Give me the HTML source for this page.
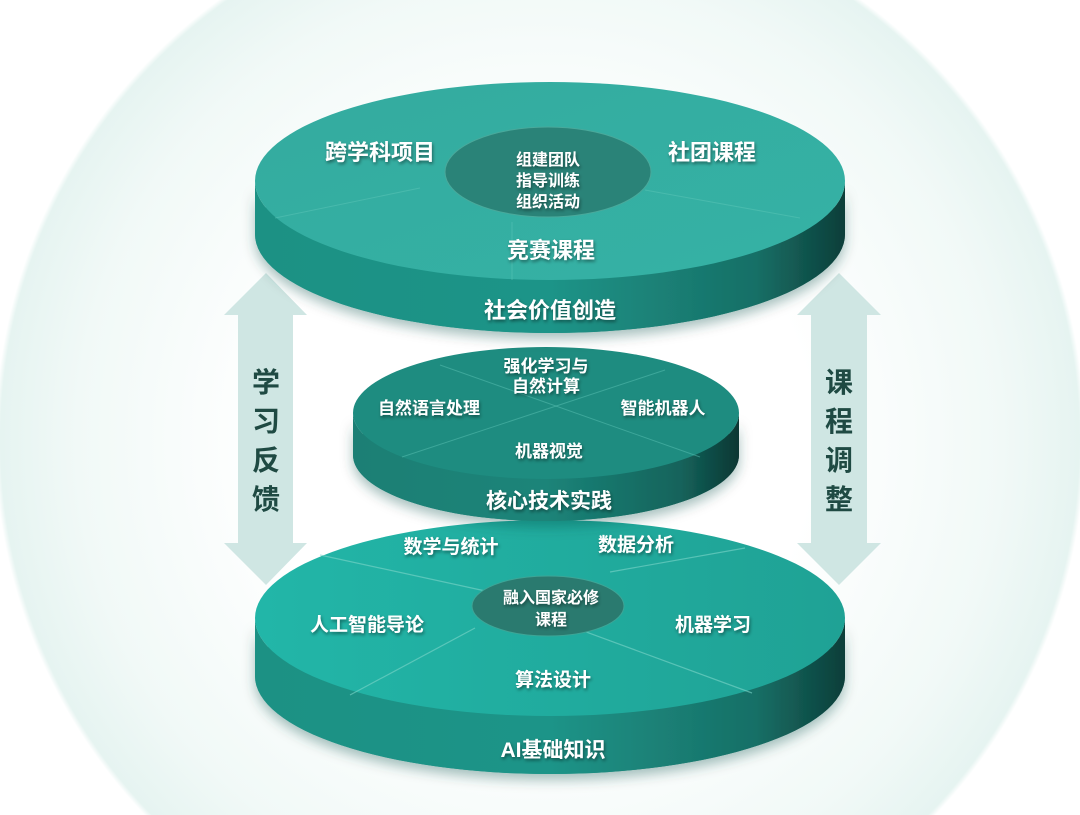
<!DOCTYPE html>
<html><head><meta charset="utf-8"><style>
html,body{margin:0;padding:0;background:#fff;width:1080px;height:815px;overflow:hidden}
svg{display:block}
text{font-family:"Liberation Sans","Noto Sans CJK SC",sans-serif;font-weight:bold}
</style></head><body>
<svg width="1080" height="815" viewBox="0 0 1080 815" xmlns="http://www.w3.org/2000/svg">
<defs>
<radialGradient id="bg" cx="540" cy="440" r="545" gradientUnits="userSpaceOnUse">
<stop offset="0.5" stop-color="#ffffff"/><stop offset="0.85" stop-color="#f1f9f7"/><stop offset="0.99" stop-color="#e6f4f1"/><stop offset="1" stop-color="#ffffff"/>
</radialGradient>
<linearGradient id="side" x1="0" x2="1" y1="0" y2="0">
<stop offset="0" stop-color="#1f9184"/><stop offset="0.5" stop-color="#1e9488"/><stop offset="0.85" stop-color="#176f66"/><stop offset="1" stop-color="#0c3e39"/>
</linearGradient>
<linearGradient id="side2" x1="0" x2="1" y1="0" y2="0">
<stop offset="0" stop-color="#1a7f74"/><stop offset="0.5" stop-color="#1b8479"/><stop offset="0.85" stop-color="#14635b"/><stop offset="1" stop-color="#0a3733"/>
</linearGradient>
<linearGradient id="topf" x1="0" x2="1" y1="0" y2="1">
<stop offset="0" stop-color="#34ab9f"/><stop offset="1" stop-color="#35b2a5"/>
</linearGradient>
<linearGradient id="botf" x1="0" x2="1" y1="0" y2="0">
<stop offset="0" stop-color="#22b6a8"/><stop offset="1" stop-color="#1fa295"/>
</linearGradient>
<filter id="sh" x="-10%" y="-10%" width="120%" height="130%"><feDropShadow dx="0" dy="6" stdDeviation="6" flood-color="#0a4a44" flood-opacity="0.35"/></filter>
<filter id="ts"><feDropShadow dx="1" dy="2" stdDeviation="1.5" flood-color="#000" flood-opacity="0.45"/></filter>
</defs>
<rect width="1080" height="815" fill="#fff"/>
<circle cx="540" cy="440" r="545" fill="url(#bg)"/>

<polygon points="266,273 307,315 293,315 293,543 307,543 266,585 224,543 238,543 238,315 224,315" fill="#cfe6e3"/>
<polygon points="839,273 881,315 867,315 867,543 881,543 839,585 797,543 811,543 811,315 797,315" fill="#cfe6e3"/>
<g fill="#1f4a43" font-size="28" text-anchor="middle">
<text x="266" y="392">学</text><text x="266" y="431">习</text><text x="266" y="470">反</text><text x="266" y="509">馈</text>
<text x="839" y="392">课</text><text x="839" y="431">程</text><text x="839" y="470">调</text><text x="839" y="509">整</text>
</g>

<g filter="url(#sh)">
<path d="M255,618 A295,98 0 0 0 845,618 L845,676 A295,98 0 0 1 255,676 Z" fill="url(#side)"/>
<ellipse cx="550" cy="676" rx="295" ry="98" fill="url(#side)"/>
</g>
<ellipse cx="550" cy="618" rx="295" ry="98" fill="url(#botf)"/>
<g stroke="#7fd6c9" stroke-opacity="0.6" stroke-width="1.2">
<line x1="320" y1="555" x2="490" y2="592"/><line x1="610" y1="572" x2="745" y2="548"/>
<line x1="475" y1="628" x2="350" y2="695"/><line x1="540" y1="615" x2="752" y2="693"/>
</g>
<ellipse cx="548" cy="606" rx="76" ry="30" fill="#2a7a6f" stroke="#3ea596" stroke-width="1"/>
<g fill="#fff" font-size="19" text-anchor="middle" filter="url(#ts)">
<text x="451" y="553">数学与统计</text><text x="636" y="551">数据分析</text>
<text x="367" y="631">人工智能导论</text><text x="713" y="631">机器学习</text>
<text x="553" y="686">算法设计</text>
<text x="551" y="603" font-size="16">融入国家必修</text><text x="551" y="625" font-size="16">课程</text>
<text x="553" y="757" font-size="21">AI基础知识</text>
</g>

<g filter="url(#sh)">
<path d="M353,413 A193,66 0 0 0 739,413 L739,455 A193,66 0 0 1 353,455 Z" fill="url(#side2)"/>
<ellipse cx="546" cy="455" rx="193" ry="66" fill="url(#side2)"/>
</g>
<ellipse cx="546" cy="413" rx="193" ry="66" fill="#1e8c80"/>
<g stroke="#5cc2b4" stroke-opacity="0.5" stroke-width="1">
<line x1="440" y1="365" x2="700" y2="457"/><line x1="665" y1="370" x2="402" y2="457"/>
</g>
<g fill="#fff" font-size="17" text-anchor="middle" filter="url(#ts)">
<text x="546" y="372">强化学习与</text><text x="546" y="392">自然计算</text>
<text x="429" y="414">自然语言处理</text><text x="663" y="414">智能机器人</text>
<text x="549" y="457">机器视觉</text>
<text x="549" y="508" font-size="21">核心技术实践</text>
</g>

<g filter="url(#sh)">
<path d="M255,181 A295,99 0 0 0 845,181 L845,234 A295,99 0 0 1 255,234 Z" fill="url(#side)"/>
<ellipse cx="550" cy="234" rx="295" ry="99" fill="url(#side)"/>
</g>
<ellipse cx="550" cy="181" rx="295" ry="99" fill="url(#topf)"/>
<g stroke="#5cc6b8" stroke-opacity="0.5" stroke-width="1">
<line x1="275" y1="218" x2="420" y2="188"/><line x1="645" y1="190" x2="800" y2="218"/><line x1="512" y1="222" x2="512" y2="280"/>
</g>
<ellipse cx="548" cy="172" rx="103" ry="45" fill="#2a8378" stroke="#4aa99b" stroke-width="1"/>
<g fill="#fff" text-anchor="middle" filter="url(#ts)">
<text x="380" y="160" font-size="22">跨学科项目</text><text x="712" y="160" font-size="22">社团课程</text>
<text x="551" y="258" font-size="22">竞赛课程</text>
<text x="548" y="165" font-size="16">组建团队</text><text x="548" y="186" font-size="16">指导训练</text><text x="548" y="207" font-size="16">组织活动</text>
<text x="550" y="318" font-size="22">社会价值创造</text>
</g>
</svg>
</body></html>
